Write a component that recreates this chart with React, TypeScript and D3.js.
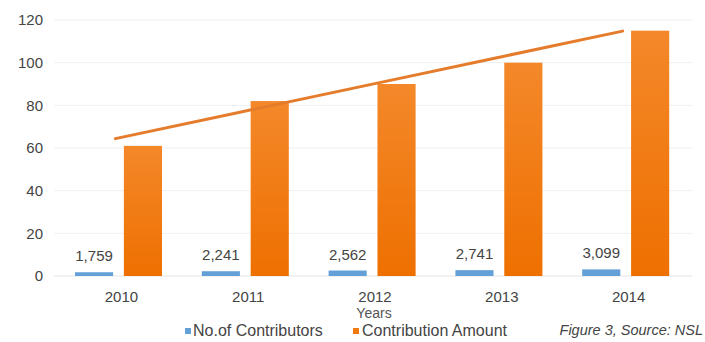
import React from "react";
import * as d3 from "d3";

const years = ["2010", "2011", "2012", "2013", "2014"];
const contributors = [1759, 2241, 2562, 2741, 3099];
const contributionAmount = [61, 82, 90, 100, 115];
const yTicks = [0, 20, 40, 60, 80, 100, 120];

const W = 705;
const H = 342;
const BLUE = "#64a0d8";
const ORANGE = "#f07a12";
const LINE = "#e57c2c";
const FONT = "'Liberation Sans', Arial, Helvetica, sans-serif";

export default function App() {
  const x = d3.scaleBand<string>().domain(years).range([52, 686]).padding(0);
  const inner = d3
    .scaleBand<string>()
    .domain(["blue", "orange"])
    .range([23, 110])
    .paddingInner(0.22);
  const y = d3.scaleLinear().domain([0, 120]).range([276, 20]);

  // linear trendline of contribution amount
  const idx = years.map((_, i) => i);
  const mx = d3.mean(idx) as number;
  const my = d3.mean(contributionAmount) as number;
  const slope =
    (d3.sum(idx, (i) => (i - mx) * (contributionAmount[i] - my)) as number) /
    (d3.sum(idx, (i) => (i - mx) * (i - mx)) as number);
  const trend = idx.map((i) => my + slope * (i - mx));
  const line = d3
    .line<number>()
    .x((_, i) => (x(years[i]) as number) + x.bandwidth() / 2)
    .y((v) => y(v));

  return (
    <svg
      width={W}
      height={H}
      style={{ position: "absolute", left: 0, top: 0, background: "#fff" }}
      fontFamily={FONT}
    >
      <defs>
        <linearGradient id="og" x1="0" y1="0" x2="0" y2="1">
          <stop offset="0" stopColor="#f4882a" />
          <stop offset="1" stopColor="#ee7000" />
        </linearGradient>
      </defs>
      {yTicks.map((t) => (
        <g key={t}>
          <line
            x1={54}
            x2={692}
            y1={y(t)}
            y2={y(t)}
            stroke={t === 0 ? "#e4e4e4" : "#efefef"}
            strokeWidth={1}
          />
          <text
            x={43}
            y={y(t)}
            dy="0.35em"
            textAnchor="end"
            fontSize={15}
            fill="#444"
          >
            {t}
          </text>
        </g>
      ))}
      {years.map((yr, i) => {
        const x0 = x(yr) as number;
        const bx = x0 + (inner("blue") as number);
        const ox = x0 + (inner("orange") as number);
        const bv = contributors[i] / 1000;
        return (
          <g key={yr}>
            <rect
              x={bx}
              y={y(bv)}
              width={inner.bandwidth()}
              height={y(0) - y(bv)}
              fill={BLUE}
            />
            <rect
              x={ox}
              y={y(contributionAmount[i])}
              width={inner.bandwidth()}
              height={y(0) - y(contributionAmount[i])}
              fill="url(#og)"
            />
            <text
              x={bx + inner.bandwidth() / 2}
              y={y(bv) - 11}
              textAnchor="middle"
              fontSize={15}
              fill="#444"
            >
              {d3.format(",")(contributors[i])}
            </text>
            <text
              x={x0 + x.bandwidth() / 2 + 6}
              y={302}
              textAnchor="middle"
              fontSize={15}
              fill="#444"
            >
              {yr}
            </text>
          </g>
        );
      })}
      <path
        d={line(trend) as string}
        fill="none"
        stroke={LINE}
        strokeWidth={3}
        strokeLinecap="round"
      />
      <text x={374} y={318} textAnchor="middle" fontSize={14} fill="#555">
        Years
      </text>
      <rect x={185} y={328} width={6} height={6} fill={BLUE} />
      <text x={193} y={336} fontSize={16} fill="#444">
        No.of Contributors
      </text>
      <rect x={353} y={328} width={6} height={6} fill={ORANGE} />
      <text x={362} y={336} fontSize={16} fill="#444">
        Contribution Amount
      </text>
      <text
        x={703}
        y={335}
        textAnchor="end"
        fontSize={14.5}
        fontStyle="italic"
        fill="#444"
      >
        Figure 3, Source: NSL
      </text>
    </svg>
  );
}
